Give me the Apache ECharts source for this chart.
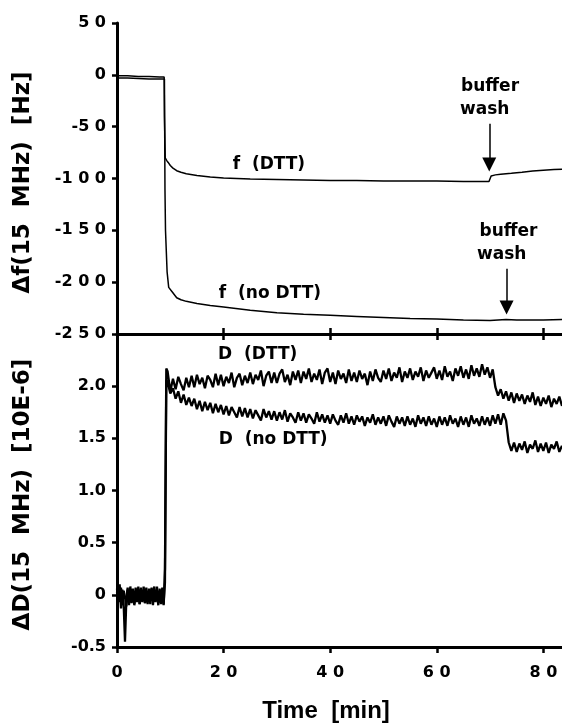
<!DOCTYPE html>
<html>
<head>
<meta charset="utf-8">
<script src="https://cdn.jsdelivr.net/npm/echarts@6/dist/echarts.min.js"></script>
<style>
  html, body { margin: 0; padding: 0; background: #fff; }
  #main { width: 562px; height: 726px; }
</style>
</head>
<body>
<div id="main"></div>
<script>
// QCM-D trace: frequency shift (top) and dissipation shift (bottom) at 15 MHz.

// Frequency traces, sampled at the listed times [min]
const fDttTime = [0, 2, 4, 6, 8, 8.85, 8.9, 9.05, 9.3, 9.6, 10, 10.5, 11.2, 12, 13, 15, 17.5, 20, 25, 30,
  35, 40, 45, 50, 55, 60, 65, 69.8, 70.2, 71, 72, 74, 76, 78, 80, 82, 83.5];
const fDtt = [-1, -1, -1.5, -1.5, -2, -2, -40, -80, -82.5, -84.5, -87.5, -90, -92.5, -94, -95.5, -97, -98.5, -99.5, -100.5, -101,
  -101.5, -102, -102, -102.5, -102.5, -102.5, -103, -103, -97.5, -96.5, -95.8, -95, -94, -92.8, -92, -91.3, -91];

const fNoDttTime = [0, 2, 4, 6, 8, 8.9, 9.0, 9.1, 9.4, 9.7, 10.3, 11.2, 12, 13, 15, 17.5, 20, 25, 30, 35,
  40, 45, 50, 55, 60, 65, 70, 73, 75, 80, 83.5];
const fNoDtt = [-3, -3, -3.5, -4, -4, -4, -110, -150, -190, -205, -209, -215, -217, -218.5, -220.5, -222.5, -224, -227, -229.5, -231,
  -232, -233, -234, -235, -235.5, -236.5, -237, -236, -236.5, -236.5, -236];

// Dissipation traces: baseline sampled every 0.25 min from t = 0,
// adsorption/wash part sampled every 0.5 min from t = 9.5
const D_BASE_START = 0, D_BASE_STEP = 0.25;
const D_MAIN_START = 9.5, D_MAIN_STEP = 0.5;

const dDttBase = [0.06, -0.07, 0.10, -0.13, 0.05, -0.09, -0.45, -0.05, 0.07, -0.10,
  0.05, -0.08, 0.04, -0.09, 0.07, -0.06, 0.08, -0.09, 0.04, -0.07,
  0.08, -0.08, 0.03, -0.09, 0.06, -0.06, 0.07, -0.10, 0.05, -0.07,
  0.08, -0.08, 0.04, -0.09, 0.07, -0.10, 0.25, 2.17];
const dNoDttBase = [0.02, 0.09, -0.06, 0.07, -0.10, 0.04, -0.02, -0.11, 0.05, -0.07,
  0.08, -0.05, 0.06, -0.10, 0.03, -0.07, 0.06, -0.09, 0.07, -0.05,
  0.05, -0.08, 0.07, -0.06, 0.04, -0.09, 0.06, -0.05, 0.08, -0.06,
  0.03, -0.10, 0.06, -0.05, 0.04, -0.09, 0.12, 2.06];

const dDttMain = [
  2.14, 1.95, 2.07, 1.97, 2.09, 2.02, 1.96, 2.08, 1.99, 2.10,
  1.99, 2.11, 2.02, 2.08, 1.98, 2.10, 2.06, 1.99, 2.12, 2.01,
  2.11, 2.00, 2.09, 2.03, 2.13, 1.99, 2.08, 2.12, 2.01, 2.10,
  2.03, 2.13, 2.02, 2.11, 2.06, 2.15, 2.00, 2.10, 2.14, 2.03,
  2.13, 2.03, 2.12, 2.16, 2.04, 2.11, 2.01, 2.14, 2.06, 2.15,
  2.03, 2.14, 2.07, 2.17, 2.04, 2.12, 2.06, 2.16, 2.02, 2.13,
  2.17, 2.04, 2.13, 2.02, 2.15, 2.07, 2.12, 2.03, 2.16, 2.05,
  2.13, 2.04, 2.15, 2.07, 2.12, 2.01, 2.14, 2.05, 2.16, 2.08,
  2.04, 2.15, 2.07, 2.17, 2.05, 2.13, 2.08, 2.18, 2.04, 2.14,
  2.08, 2.17, 2.06, 2.14, 2.09, 2.18, 2.05, 2.15, 2.08, 2.13,
  2.18, 2.07, 2.15, 2.06, 2.19, 2.09, 2.14, 2.05, 2.17, 2.10,
  2.19, 2.08, 2.16, 2.07, 2.20, 2.10, 2.17, 2.09, 2.21, 2.11,
  2.18, 2.08, 2.16, 1.99, 1.91, 1.97, 1.88, 1.95, 1.86, 1.94,
  1.84, 1.93, 1.86, 1.92, 1.83, 1.91, 1.85, 1.94, 1.82, 1.90,
  1.81, 1.89, 1.83, 1.91, 1.80, 1.88, 1.83, 1.90, 1.81
];
const dNoDttMain = [
  2.04, 1.93, 1.98, 1.88, 1.95, 1.84, 1.92, 1.82, 1.89, 1.81,
  1.88, 1.78, 1.86, 1.76, 1.85, 1.77, 1.84, 1.74, 1.83, 1.75,
  1.82, 1.73, 1.81, 1.72, 1.80, 1.75, 1.70, 1.80, 1.71, 1.79,
  1.70, 1.78, 1.69, 1.77, 1.72, 1.67, 1.78, 1.70, 1.76, 1.68,
  1.76, 1.67, 1.75, 1.68, 1.77, 1.66, 1.74, 1.70, 1.65, 1.75,
  1.67, 1.74, 1.65, 1.73, 1.69, 1.64, 1.75, 1.66, 1.73, 1.65,
  1.72, 1.64, 1.73, 1.67, 1.63, 1.72, 1.65, 1.74, 1.64, 1.71,
  1.63, 1.72, 1.66, 1.71, 1.62, 1.70, 1.65, 1.73, 1.63, 1.70,
  1.64, 1.71, 1.62, 1.72, 1.66, 1.61, 1.71, 1.64, 1.70, 1.62,
  1.71, 1.63, 1.69, 1.61, 1.72, 1.64, 1.70, 1.62, 1.71, 1.63,
  1.69, 1.61, 1.71, 1.63, 1.70, 1.62, 1.72, 1.64, 1.69, 1.61,
  1.71, 1.63, 1.70, 1.61, 1.72, 1.64, 1.69, 1.62, 1.71, 1.63,
  1.70, 1.62, 1.72, 1.64, 1.73, 1.63, 1.74, 1.67, 1.46, 1.38,
  1.46, 1.37, 1.45, 1.39, 1.47, 1.36, 1.44, 1.40, 1.48, 1.37,
  1.45, 1.38, 1.46, 1.36, 1.44, 1.40, 1.47, 1.37, 1.43
];

// Axis ticks
const timeTicks = [0, 20, 40, 60, 80];
const fTicks = [50, 0, -50, -100, -150, -200, -250];
const dTicks = [2.0, 1.5, 1.0, 0.5, 0, -0.5];

// Annotations: [text, time, value]
const fLabels = [['f  (DTT)', 28.5, -86.8], ['f  (no DTT)', 28.7, -210.7]];
const dLabels = [['D  (DTT)', 26.4, 2.30], ['D  (no DTT)', 29.3, 1.49]];
const washTopText = [['buffer', 70.0, -11.6], ['wash', 69.0, -33.3]];
const washBottomText = [['buffer', 73.45, -150.9], ['wash', 72.2, -173]];
const washTopArrow = [69.85, -47.3, -86.5];
const washBottomArrow = [73.1, -187, -224.5];

const INK = '#000';
const TICK_FONT = { fontFamily: 'DejaVu Sans', fontWeight: 'bold', fontSize: 16, color: INK };
const NOTE_FONT = { fontFamily: 'DejaVu Sans', fontWeight: 'bold', fontSize: 17, color: INK };
const TITLE_FONT = { fontFamily: 'DejaVu Sans', fontWeight: 'bold', fontSize: 23, color: INK };

// tracked digits: a space between consecutive digits
const spaced = v => String(v).replace(/(\d)(?=\d)/g, '$1 ');

const pairs = (ts, vs) => ts.map((t, i) => [t, vs[i]]);
const dTrace = (base, main) =>
  base.map((v, i) => [D_BASE_START + i * D_BASE_STEP, v])
    .concat(main.map((v, i) => [D_MAIN_START + i * D_MAIN_STEP, v]));

const notes = list => list.map(([text, t, v]) => ({
  coord: [t, v], value: text, symbol: 'rect', symbolSize: 1,
  itemStyle: { color: 'rgba(0,0,0,0)' },
  label: Object.assign({ show: true, position: 'inside', formatter: text }, NOTE_FONT)
}));

const arrow = ([t, v0, v1]) => ({
  silent: true,
  symbol: ['none', 'triangle'],
  symbolSize: 14,
  lineStyle: { color: INK, width: 1.5, type: 'solid' },
  itemStyle: { color: INK },
  label: { show: false },
  emphasis: { disabled: true },
  data: [[{ coord: [t, v0] }, { coord: [t, v1] }]]
});

const axisLine = { show: true, onZero: false, lineStyle: { color: INK, width: 3 } };
const tickStyle = { color: INK, width: 2.5 };

const chart = echarts.init(document.getElementById('main'), null, { renderer: 'canvas' });

chart.setOption({
  animation: false,
  backgroundColor: '#fff',
  grid: [
    { left: 117, right: 0, top: 23, height: 311 },
    { left: 117, right: 0, top: 334, height: 313 }
  ],
  xAxis: [
    {
      gridIndex: 0, type: 'value', min: 0, max: 83.5, interval: 20, position: 'bottom',
      axisLine, axisTick: { show: true, inside: true, length: 6, lineStyle: tickStyle, customValues: timeTicks },
      axisLabel: { show: false }, splitLine: { show: false }
    },
    {
      gridIndex: 1, type: 'value', min: 0, max: 83.5, interval: 20, position: 'bottom',
      axisLine, axisTick: { show: true, inside: false, length: 6, lineStyle: tickStyle, customValues: timeTicks },
      axisLabel: Object.assign({
        margin: 18, customValues: timeTicks,
        formatter: v => (timeTicks.includes(v) ? spaced(v) : '')
      }, TICK_FONT),
      splitLine: { show: false },
      name: 'Time  [min]', nameLocation: 'middle', nameGap: 52,
      nameTextStyle: { fontFamily: 'Liberation Sans', fontWeight: 'bold', fontSize: 24, color: INK, padding: [0, 27, 0, 0] }
    },
    {
      gridIndex: 1, type: 'value', min: 0, max: 83.5, interval: 20, position: 'top',
      axisLine, axisTick: { show: true, inside: true, length: 6, lineStyle: tickStyle, customValues: timeTicks },
      axisLabel: { show: false }, splitLine: { show: false }
    }
  ],
  yAxis: [
    {
      gridIndex: 0, type: 'value', min: -250, max: 50, interval: 50,
      axisLine, axisTick: { show: true, inside: false, length: 5, lineStyle: tickStyle, customValues: fTicks },
      axisLabel: Object.assign({ margin: 11, customValues: fTicks, formatter: spaced }, TICK_FONT),
      splitLine: { show: false },
      name: 'Δf(15  MHz)  [Hz]', nameLocation: 'middle', nameGap: 82,
      nameTextStyle: Object.assign({ padding: [0, 8, 0, 0] }, TITLE_FONT)
    },
    {
      gridIndex: 1, type: 'value', min: -0.5, max: 2.5, interval: 0.5,
      axisLine, axisTick: { show: true, inside: false, length: 5, lineStyle: tickStyle, customValues: dTicks },
      axisLabel: Object.assign({
        margin: 11, customValues: dTicks,
        formatter: v => (v > 2.25 ? '' : (v === 0 ? '0' : v.toFixed(1)))
      }, TICK_FONT),
      splitLine: { show: false },
      name: 'ΔD(15  MHz)  [10E-6]', nameLocation: 'middle', nameGap: 82,
      nameTextStyle: Object.assign({ padding: [0, 8, 0, 0] }, TITLE_FONT)
    }
  ],
  series: [
    {
      name: 'f (DTT)', type: 'line', xAxisIndex: 0, yAxisIndex: 0,
      data: pairs(fDttTime, fDtt), showSymbol: false, symbol: 'none',
      lineStyle: { color: INK, width: 1.5 },
      markPoint: { silent: true, data: notes(fLabels.concat(washTopText, washBottomText)) },
      markLine: arrow(washTopArrow)
    },
    {
      name: 'f (no DTT)', type: 'line', xAxisIndex: 0, yAxisIndex: 0,
      data: pairs(fNoDttTime, fNoDtt), showSymbol: false, symbol: 'none',
      lineStyle: { color: INK, width: 1.5 },
      markLine: arrow(washBottomArrow)
    },
    {
      name: 'D (DTT)', type: 'line', xAxisIndex: 1, yAxisIndex: 1,
      data: dTrace(dDttBase, dDttMain), showSymbol: false, symbol: 'none',
      lineStyle: { color: INK, width: 2.3 },
      markPoint: { silent: true, data: notes(dLabels) }
    },
    {
      name: 'D (no DTT)', type: 'line', xAxisIndex: 1, yAxisIndex: 1,
      data: dTrace(dNoDttBase, dNoDttMain), showSymbol: false, symbol: 'none',
      lineStyle: { color: INK, width: 2.3 }
    }
  ]
});
</script>
</body>
</html>
